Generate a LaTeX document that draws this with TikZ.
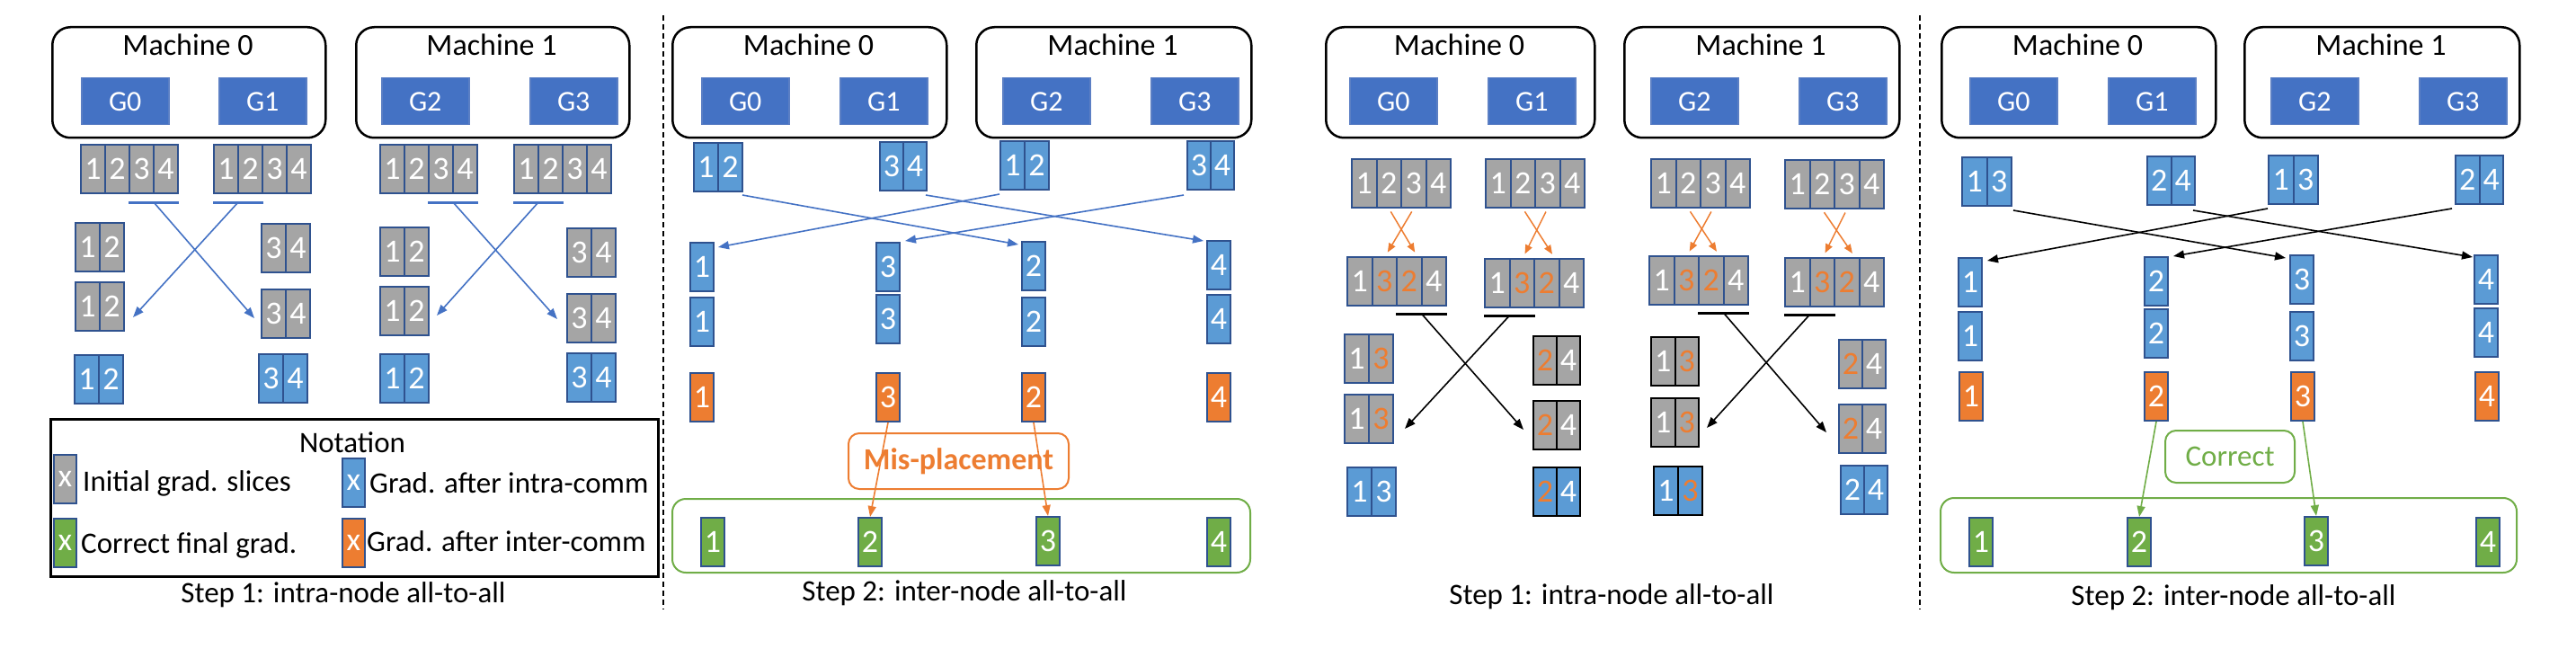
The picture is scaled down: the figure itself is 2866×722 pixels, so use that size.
\documentclass[tikz,border=0pt]{standalone}
\usepackage{fontspec}
\setmainfont{Carlito}
\usetikzlibrary{arrows.meta,calc}
\definecolor{gblue}{HTML}{4472C4}
\definecolor{gborder}{HTML}{5B7FC4}
\definecolor{lblue}{HTML}{5B9BD5}
\definecolor{ggray}{HTML}{A5A5A5}
\definecolor{gorange}{HTML}{ED7D31}
\definecolor{ggreen}{HTML}{70AD47}
\definecolor{cborder}{HTML}{2F528F}
\newcommand\mfont{\fontsize{34}{40}\selectfont}
\newcommand\nfont{\fontsize{36}{40}\selectfont}
\newcommand\gfont{\fontsize{32}{38}\selectfont}
\newcommand\tfont{\fontsize{33}{40}\selectfont}
\newcommand\oc[1]{\textcolor{gorange}{#1}}
\newcommand\cells[6][]{\foreach \d [count=\i] in {#6}{\node[cell,minimum width=#5,#1] (#2\i) at ({#3+(\i-1)*#5},#4) {\d};}}
\newcommand\machblock[8]{%
  \node[mach, minimum width={#3-#2}, anchor=north west] (#1) at (#2,29) {};
  \node[anchor=base, font=\mfont, inner sep=0] (#1t) at ({(#2+#3)/2},62) {#4};
  \node[gpu] (#1a) at (#5,86) {#6};
  \node[gpu] (#1b) at (#7,86) {#8};}
\begin{document}
\begin{tikzpicture}[x=1pt,y=-1pt,
  mach/.style={draw=black, line width=2.5pt, rounded corners=20pt, minimum height=123pt, inner sep=0pt},
  gpu/.style={anchor=north west, fill=gblue, draw=gborder, line width=1.5pt, minimum width=97pt, minimum height=52pt, text=white, font=\gfont, inner sep=0pt},
  cell/.style={anchor=north west, minimum height=54pt, inner sep=0pt, line width=2pt, text=white, font=\nfont, draw=cborder},
  gcell/.style={cell, fill=ggray},
  bcell/.style={cell, fill=lblue},
  ocell/.style={cell, fill=gorange},
  grcell/.style={cell, fill=ggreen},
  kb/.style={draw=black},
  ulb/.style={draw=gblue, line width=3pt},
  ulk/.style={draw=black, line width=3pt},
  barrow/.style={draw=gblue, line width=1.6pt, -{Triangle[length=12pt,width=9pt]}},
  karrow/.style={draw=black, line width=1.6pt, -{Triangle[length=12pt,width=9pt]}},
  oarrow/.style={draw=gorange, line width=1.6pt, -{Triangle[length=12pt,width=9pt]}},
  garrow/.style={draw=ggreen, line width=1.6pt, -{Triangle[length=12pt,width=9pt]}},
  xarrow/.style={draw=gorange, line width=1.5pt, -{Triangle[length=10pt,width=8pt]}, shorten <=4pt, shorten >=5pt},
  txt/.style={font=\tfont, inner sep=0pt},
  sep/.style={draw=black, line width=1.5pt, dash pattern=on 6pt off 4pt}]
\useasboundingbox (0,0) rectangle (2866,722);

% separators
\draw[sep] (738,17) -- (738,678);
\draw[sep] (2136,17) -- (2136,678);

%%%%%%%%%%%%%%%% Panel 1
\machblock{pam}{57}{361}{Machine 0}{90}{G0}{243}{G1}
\machblock{pbm}{395}{699}{Machine 1}{424}{G2}{589}{G3}
\cells[gcell]{p1a}{89}{160}{27}{1,2,3,4}
\cells[gcell]{p1b}{237}{160}{27}{1,2,3,4}
\cells[gcell]{p1c}{422}{160}{27}{1,2,3,4}
\cells[gcell]{p1d}{571}{160}{27}{1,2,3,4}
\draw[ulb] ([yshift=-9pt]p1a3.south west) -- coordinate (p1ua) ([yshift=-9pt]p1a4.south east);
\draw[ulb] ([yshift=-9pt]p1b1.south west) -- coordinate (p1ub) ([yshift=-9pt]p1b2.south east);
\draw[ulb] ([yshift=-9pt]p1c3.south west) -- coordinate (p1uc) ([yshift=-9pt]p1c4.south east);
\draw[ulb] ([yshift=-9pt]p1d1.south west) -- coordinate (p1ud) ([yshift=-9pt]p1d2.south east);
\cells[gcell]{p1e}{83}{247}{27}{1,2}
\cells[gcell]{p1f}{290}{248}{27}{3,4}
\cells[gcell]{p1g}{83}{313}{27}{1,2}
\cells[gcell]{p1h}{290}{321}{27}{3,4}
\cells[bcell]{p1i}{82}{394}{27}{1,2}
\cells[bcell]{p1j}{287}{393}{27}{3,4}
\cells[gcell]{p1k}{422}{252}{27}{1,2}
\cells[gcell]{p1l}{422}{318}{27}{1,2}
\cells[bcell]{p1m}{422}{393}{27}{1,2}
\cells[gcell]{p1n}{630}{253}{27}{3,4}
\cells[gcell]{p1o}{630}{326}{27}{3,4}
\cells[bcell]{p1p}{630}{392}{27}{3,4}
\coordinate (p1ea) at ($(p1h1.west)+(-7,5)$);
\coordinate (p1eb) at ($(p1g2.east)+(9,12)$);
\coordinate (p1ec) at ($(p1o1.west)+(-10,1)$);
\coordinate (p1ed) at ($(p1l2.east)+(8,5)$);
\draw[barrow] (p1ua) -- (p1ea);
\draw[barrow] (p1ub) -- (p1eb);
\draw[barrow] (p1uc) -- (p1ec);
\draw[barrow] (p1ud) -- (p1ed);

% notation
\node[draw=black, line width=2.5pt, minimum width=676pt, minimum height=175pt, anchor=north west, inner sep=0] (note) at (55,465) {};
\node[txt, anchor=base] (notet) at (392,503) {Notation};
\node[gcell, minimum width=25pt] (lg1) at (59,505) {x};
\node[txt, anchor=base west] (lg1t) at (92,546) {Initial grad. slices};
\node[bcell, minimum width=25pt] (lg2) at (380,509) {x};
\node[txt, anchor=base west] (lg2t) at (411,548) {Grad. after intra-comm};
\node[grcell, minimum width=25pt] (lg3) at (59,576) {x};
\node[txt, anchor=base west] (lg3t) at (90,615) {Correct final grad.};
\node[ocell, minimum width=25pt] (lg4) at (380,576) {x};
\node[txt, anchor=base west] (lg4t) at (408,613) {Grad. after inter-comm};
\node[txt, anchor=base] (step1a) at (382,670) {Step 1: intra-node all-to-all};

%%%%%%%%%%%%%%%% Panel 2
\machblock{qam}{747}{1052}{Machine 0}{780}{G0}{934}{G1}
\machblock{qbm}{1085}{1391}{Machine 1}{1115}{G2}{1280}{G3}
\node[draw=ggreen, line width=2pt, rounded corners=15pt, minimum width=643pt, minimum height=82pt, inner sep=0] (gbox2) at (1069.5,596) {};
\node[draw=gorange, line width=2pt, rounded corners=12pt, minimum width=245pt, minimum height=62pt, inner sep=0, text=gorange, font=\mfont\bfseries] (mis) at (1066.5,513) {Mis-placement};
\cells[bcell]{q1a}{771}{158}{27}{1,2}
\cells[bcell]{q1b}{978}{157}{26}{3,4}
\cells[bcell]{q1c}{1112}{156}{27}{1,2}
\cells[bcell]{q1d}{1320}{156}{26}{3,4}
\node[bcell, minimum width=26pt] (q2a) at (767,269) {1};
\node[bcell, minimum width=26pt] (q2b) at (974,269) {3};
\node[bcell, minimum width=26pt] (q2c) at (1136,268) {2};
\node[bcell, minimum width=26pt] (q2d) at (1342,267) {4};
\node[bcell, minimum width=26pt] (q3a) at (767,330) {1};
\node[bcell, minimum width=26pt] (q3b) at (974,327) {3};
\node[bcell, minimum width=26pt] (q3c) at (1136,330) {2};
\node[bcell, minimum width=26pt] (q3d) at (1342,327) {4};
\node[ocell, minimum width=26pt] (q4a) at (767,414) {1};
\node[ocell, minimum width=26pt] (q4b) at (974,414) {3};
\node[ocell, minimum width=26pt] (q4c) at (1136,414) {2};
\node[ocell, minimum width=26pt] (q4d) at (1342,414) {4};
\node[grcell, minimum width=26pt] (q5a) at (779,575) {1};
\node[grcell, minimum width=26pt] (q5b) at (954,575) {2};
\node[grcell, minimum width=26pt] (q5c) at (1152,574) {3};
\node[grcell, minimum width=26pt] (q5d) at (1342,575) {4};
\draw[barrow] ($(q1a2.south east)+(-1,3)$) -- ($(q2c.north west)+(-3,4)$);
\draw[barrow] ($(q1b2.south east)+(-2,4)$) -- ($(q2d.north west)+(-3,1)$);
\draw[barrow] ($(q1c1.south west)+(0,4)$) -- ($(q2a.north east)+(4,6)$);
\draw[barrow] ($(q1d1.south west)+(-3,5)$) -- ($(q2b.north east)+(5,-1)$);
\draw[oarrow] (q4b.south) -- (q5b.north);
\draw[oarrow] (q4c.south) -- (q5c.north);
\node[txt, anchor=base] (step2a) at (1073,668) {Step 2: inter-node all-to-all};

%%%%%%%%%%%%%%%% Panel 3
\machblock{ram}{1474}{1773}{Machine 0}{1501}{G0}{1655}{G1}
\machblock{rbm}{1806}{2112}{Machine 1}{1836}{G2}{2001}{G3}
\cells[gcell]{r1a}{1503}{176}{27.5}{1,2,3,4}
\cells[gcell]{r1b}{1652}{176}{27.5}{1,2,3,4}
\cells[gcell]{r1c}{1836}{176}{27.5}{1,2,3,4}
\cells[gcell]{r1d}{1985}{177}{27.5}{1,2,3,4}
\cells[gcell]{r2a}{1498}{285}{27.5}{1,\oc{3},\oc{2},4}
\cells[gcell]{r2b}{1651}{287}{27.5}{1,\oc{3},\oc{2},4}
\cells[gcell]{r2c}{1834}{284}{27.5}{1,\oc{3},\oc{2},4}
\cells[gcell]{r2d}{1985}{286}{27.5}{1,\oc{3},\oc{2},4}
\foreach \g in {a,b,c,d}{
  \draw[xarrow] (r1\g3.south) -- ([xshift=1pt]r2\g2.north);
  \draw[xarrow] (r1\g2.south) -- ([xshift=9pt]r2\g3.north);
}
\draw[ulk] ([yshift=-8pt]r2a3.south west) -- coordinate (r2ua) ([yshift=-8pt]r2a4.south east);
\draw[ulk] ([yshift=-8pt]r2b1.south west) -- coordinate (r2ub) ([yshift=-8pt]r2b2.south east);
\draw[ulk] ([yshift=-8pt]r2c3.south west) -- coordinate (r2uc) ([yshift=-8pt]r2c4.south east);
\draw[ulk] ([yshift=-8pt]r2d1.south west) -- coordinate (r2ud) ([yshift=-8pt]r2d2.south east);
\cells[gcell]{r3a}{1495}{371}{27}{1,\oc{3}}
\cells[gcell,kb]{r3b}{1705}{373}{26}{\oc{2},4}
\cells[gcell,kb]{r3c}{1836}{374}{26.5}{1,\oc{3}}
\cells[gcell]{r3d}{2045}{377}{26}{\oc{2},4}
\cells[gcell]{r4a}{1495}{438}{27}{1,\oc{3}}
\cells[gcell,kb]{r4b}{1705}{445}{26}{\oc{2},4}
\cells[gcell,kb]{r4c}{1836}{442}{26.5}{1,\oc{3}}
\cells[gcell]{r4d}{2045}{449}{26}{\oc{2},4}
\cells[bcell]{r5a}{1498}{519}{27}{1,3}
\cells[bcell,kb]{r5b}{1705}{519}{26}{\oc{2},4}
\cells[bcell,kb]{r5c}{1839}{518}{27}{1,\oc{3}}
\cells[bcell]{r5d}{2047}{517}{26}{2,4}
\coordinate (r3ea) at ($(r4b1.west)+(-10,5)$);
\coordinate (r3eb) at ($(r4a2.east)+(12,11)$);
\coordinate (r3ec) at ($(r4d1.west)+(-13,4)$);
\coordinate (r3ed) at ($(r4c2.east)+(8,6)$);
\draw[karrow] (r2ua) -- (r3ea);
\draw[karrow] (r2ub) -- (r3eb);
\draw[karrow] (r2uc) -- (r3ec);
\draw[karrow] (r2ud) -- (r3ed);
\node[txt, anchor=base] (step1b) at (1793,672) {Step 1: intra-node all-to-all};

%%%%%%%%%%%%%%%% Panel 4
\machblock{sam}{2159}{2464}{Machine 0}{2191}{G0}{2345}{G1}
\machblock{sbm}{2496}{2802}{Machine 1}{2526}{G2}{2691}{G3}
\node[draw=ggreen, line width=2pt, rounded corners=15pt, minimum width=641pt, minimum height=83pt, inner sep=0] (gbox4) at (2479.5,595.5) {};
\node[draw=ggreen, line width=2pt, rounded corners=12pt, minimum width=144pt, minimum height=58pt, inner sep=0, text=ggreen, font=\tfont] (corr) at (2481,508) {Correct};
\cells[bcell]{s1a}{2182}{174}{27.5}{1,3}
\cells[bcell]{s1b}{2388}{173}{26.5}{2,4}
\cells[bcell]{s1c}{2523}{172}{27.5}{1,3}
\cells[bcell]{s1d}{2731}{172}{26.5}{2,4}
\node[bcell, minimum width=26pt] (s2a) at (2178,286) {1};
\node[bcell, minimum width=26pt] (s2b) at (2385,285) {2};
\node[bcell, minimum width=26pt] (s2c) at (2547,283) {3};
\node[bcell, minimum width=26pt] (s2d) at (2752,283) {4};
\node[bcell, minimum width=26pt] (s3a) at (2178,346) {1};
\node[bcell, minimum width=26pt] (s3b) at (2385,343) {2};
\node[bcell, minimum width=26pt] (s3c) at (2547,346) {3};
\node[bcell, minimum width=26pt] (s3d) at (2752,342) {4};
\node[ocell, minimum width=26pt] (s4a) at (2179,413) {1};
\node[ocell, minimum width=26pt] (s4b) at (2385,413) {2};
\node[ocell, minimum width=26pt] (s4c) at (2548,413) {3};
\node[ocell, minimum width=26pt] (s4d) at (2753,413) {4};
\node[grcell, minimum width=26pt] (s5a) at (2190,575) {1};
\node[grcell, minimum width=26pt] (s5b) at (2366,575) {2};
\node[grcell, minimum width=26pt] (s5c) at (2563,574) {3};
\node[grcell, minimum width=26pt] (s5d) at (2754,575) {4};
\draw[karrow] ($(s1a2.south east)+(1,4)$) -- ($(s2c.north west)+(-4,4)$);
\draw[karrow] ($(s1b2.south east)+(-3,5)$) -- ($(s2d.north west)+(-1,3)$);
\draw[karrow] ($(s1c1.south west)+(0,4)$) -- ($(s2a.north east)+(5,4)$);
\draw[karrow] ($(s1d1.south west)+(-3,4)$) -- ($(s2b.north east)+(5,0)$);
\draw[garrow] (s4b.south) -- (s5b.north);
\draw[garrow] (s4c.south) -- (s5c.north);
\node[txt, anchor=base] (step2b) at (2485,673) {Step 2: inter-node all-to-all};
\end{tikzpicture}
\end{document}
